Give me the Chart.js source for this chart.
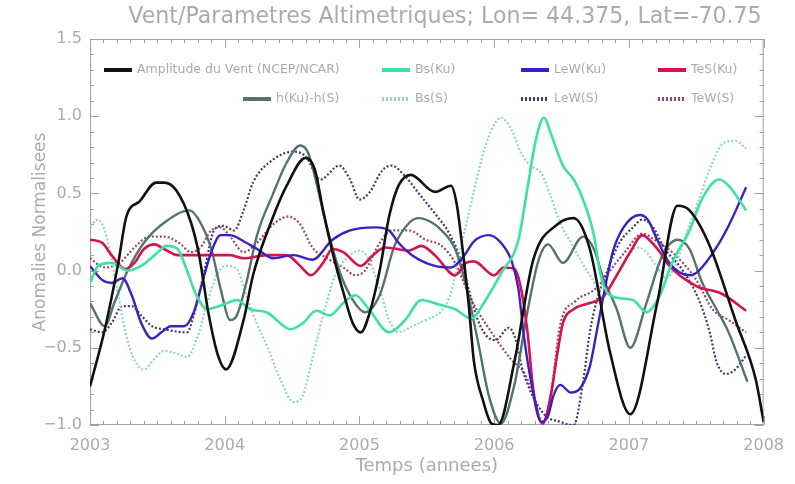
<!DOCTYPE html>
<html>
<head>
<meta charset="utf-8">
<title>Vent/Parametres Altimetriques</title>
<script src="https://cdn.jsdelivr.net/npm/chart.js@4.4.0/dist/chart.umd.min.js"></script>
<style>
  html, body { margin: 0; padding: 0; background: #ffffff; }
  #chart { display: block; }
</style>
</head>
<body>
<canvas id="chart" width="795" height="484"></canvas>
<script>
// Series: [year, normalised anomaly]
const ventPts = [[2003.00,-0.75],[2003.11,-0.38],[2003.21,0.05],[2003.27,0.35],[2003.37,0.45],[2003.49,0.57],[2003.55,0.57],[2003.64,0.52],[2003.75,0.31],[2003.81,0.10],[2003.88,-0.28],[2003.95,-0.55],[2004.01,-0.64],[2004.14,-0.32],[2004.21,-0.03],[2004.36,0.35],[2004.46,0.55],[2004.60,0.73],[2004.67,0.65],[2004.73,0.39],[2004.80,0.12],[2004.88,-0.14],[2004.95,-0.34],[2005.01,-0.40],[2005.07,-0.29],[2005.15,0.0],[2005.22,0.35],[2005.29,0.55],[2005.38,0.62],[2005.56,0.51],[2005.68,0.55],[2005.72,0.44],[2005.76,0.18],[2005.81,-0.21],[2005.85,-0.59],[2005.92,-0.85],[2005.98,-0.99],[2006.03,-1.0],[2006.15,-0.59],[2006.29,0.07],[2006.47,0.30],[2006.59,0.34],[2006.71,0.14],[2006.86,-0.53],[2007.01,-0.93],[2007.21,-0.21],[2007.36,0.42],[2007.45,0.39],[2007.60,0.16],[2007.79,-0.32],[2007.94,-0.70],[2008.00,-0.98]];
const bsKuPts = [[2003.00,-0.08],[2003.06,0.03],[2003.16,0.05],[2003.28,0.0],[2003.38,0.03],[2003.48,0.10],[2003.57,0.16],[2003.65,0.14],[2003.72,0.0],[2003.79,-0.16],[2003.87,-0.25],[2003.99,-0.22],[2004.09,-0.19],[2004.19,-0.25],[2004.31,-0.27],[2004.49,-0.38],[2004.58,-0.34],[2004.68,-0.26],[2004.78,-0.29],[2004.88,-0.21],[2004.97,-0.16],[2005.07,-0.25],[2005.22,-0.40],[2005.34,-0.32],[2005.46,-0.19],[2005.59,-0.22],[2005.71,-0.25],[2005.83,-0.31],[2005.93,-0.20],[2006.05,-0.02],[2006.18,0.20],[2006.25,0.55],[2006.31,0.85],[2006.37,0.99],[2006.42,0.89],[2006.51,0.68],[2006.59,0.59],[2006.66,0.46],[2006.74,0.23],[2006.79,-0.03],[2006.86,-0.16],[2007.03,-0.19],[2007.13,-0.27],[2007.23,-0.16],[2007.32,0.05],[2007.45,0.26],[2007.54,0.46],[2007.67,0.59],[2007.74,0.55],[2007.87,0.39]];
const lewKuPts = [[2003.00,0.03],[2003.09,-0.06],[2003.16,-0.08],[2003.24,-0.05],[2003.31,-0.16],[2003.38,-0.34],[2003.46,-0.44],[2003.53,-0.40],[2003.60,-0.36],[2003.70,-0.36],[2003.77,-0.27],[2003.82,-0.12],[2003.90,0.12],[2003.97,0.23],[2004.04,0.23],[2004.14,0.19],[2004.24,0.14],[2004.36,0.08],[2004.51,0.10],[2004.65,0.07],[2004.80,0.20],[2004.93,0.26],[2005.12,0.28],[2005.22,0.26],[2005.29,0.18],[2005.39,0.10],[2005.56,0.03],[2005.68,0.02],[2005.78,0.10],[2005.85,0.19],[2005.96,0.23],[2006.05,0.18],[2006.13,0.06],[2006.18,-0.12],[2006.22,-0.42],[2006.27,-0.70],[2006.35,-0.98],[2006.40,-0.94],[2006.44,-0.81],[2006.49,-0.74],[2006.57,-0.79],[2006.64,-0.76],[2006.71,-0.62],[2006.76,-0.40],[2006.81,-0.17],[2006.88,0.12],[2006.96,0.28],[2007.08,0.36],[2007.14,0.33],[2007.21,0.20],[2007.30,0.05],[2007.45,-0.03],[2007.52,0.0],[2007.65,0.15],[2007.74,0.29],[2007.87,0.54]];
const tesKuPts = [[2003.00,0.20],[2003.09,0.18],[2003.16,0.10],[2003.26,0.01],[2003.33,0.05],[2003.40,0.14],[2003.48,0.17],[2003.55,0.14],[2003.65,0.10],[2003.85,0.10],[2004.04,0.10],[2004.14,0.08],[2004.31,0.10],[2004.46,0.10],[2004.56,0.03],[2004.64,-0.03],[2004.73,0.05],[2004.80,0.14],[2004.88,0.12],[2005.01,0.03],[2005.10,0.10],[2005.19,0.15],[2005.37,0.13],[2005.46,0.16],[2005.56,0.10],[2005.71,-0.03],[2005.79,0.05],[2005.85,0.06],[2006.00,-0.03],[2006.07,0.02],[2006.15,0.01],[2006.20,-0.12],[2006.25,-0.42],[2006.29,-0.77],[2006.36,-0.99],[2006.42,-0.81],[2006.47,-0.53],[2006.51,-0.34],[2006.59,-0.25],[2006.71,-0.21],[2006.81,-0.17],[2006.91,-0.03],[2007.01,0.12],[2007.10,0.23],[2007.15,0.20],[2007.23,0.12],[2007.30,0.03],[2007.50,-0.10],[2007.69,-0.15],[2007.87,-0.26]];
const hDiffPts = [[2003.00,-0.21],[2003.11,-0.36],[2003.18,-0.21],[2003.28,0.0],[2003.40,0.18],[2003.55,0.31],[2003.74,0.39],[2003.82,0.31],[2003.90,0.14],[2003.97,-0.12],[2004.04,-0.32],[2004.09,-0.29],[2004.16,-0.08],[2004.24,0.23],[2004.36,0.50],[2004.46,0.70],[2004.56,0.81],[2004.62,0.76],[2004.75,0.31],[2004.85,0.0],[2004.95,-0.19],[2005.04,-0.27],[2005.15,-0.16],[2005.26,0.16],[2005.37,0.31],[2005.44,0.34],[2005.54,0.31],[2005.61,0.26],[2005.71,0.14],[2005.78,-0.06],[2005.88,-0.46],[2005.96,-0.81],[2006.05,-0.99],[2006.15,-0.74],[2006.25,-0.25],[2006.33,0.07],[2006.40,0.17],[2006.51,0.05],[2006.66,0.22],[2006.74,0.14],[2006.81,-0.05],[2006.91,-0.25],[2007.01,-0.50],[2007.13,-0.21],[2007.25,0.10],[2007.36,0.20],[2007.45,0.14],[2007.54,-0.07],[2007.65,-0.25],[2007.74,-0.40],[2007.88,-0.72]];
const bsSPts = [[2003.00,0.29],[2003.06,0.33],[2003.11,0.26],[2003.16,0.07],[2003.21,-0.16],[2003.28,-0.46],[2003.35,-0.61],[2003.40,-0.64],[2003.48,-0.57],[2003.55,-0.52],[2003.65,-0.54],[2003.72,-0.56],[2003.79,-0.45],[2003.87,-0.21],[2003.94,-0.03],[2004.01,0.03],[2004.09,0.01],[2004.16,-0.16],[2004.24,-0.35],[2004.31,-0.48],[2004.41,-0.70],[2004.51,-0.85],[2004.58,-0.81],[2004.65,-0.57],[2004.73,-0.29],[2004.82,-0.03],[2004.93,0.10],[2005.00,0.13],[2005.07,0.07],[2005.15,-0.12],[2005.22,-0.32],[2005.29,-0.40],[2005.39,-0.36],[2005.49,-0.32],[2005.61,-0.26],[2005.68,-0.14],[2005.76,0.18],[2005.83,0.44],[2005.90,0.70],[2005.98,0.91],[2006.05,0.99],[2006.13,0.91],[2006.20,0.76],[2006.27,0.68],[2006.35,0.63],[2006.42,0.48],[2006.49,0.31],[2006.57,0.18],[2006.64,0.07],[2006.71,-0.03],[2006.79,-0.12],[2006.86,-0.10],[2006.96,0.05],[2007.06,0.15],[2007.13,0.12],[2007.21,0.02],[2007.28,-0.05],[2007.35,0.05],[2007.43,0.25],[2007.52,0.46],[2007.62,0.70],[2007.71,0.83],[2007.79,0.84],[2007.87,0.79]];
const lewSPts = [[2003.00,-0.38],[2003.09,-0.40],[2003.16,-0.34],[2003.24,-0.23],[2003.31,-0.23],[2003.38,-0.29],[2003.46,-0.36],[2003.55,-0.38],[2003.72,-0.40],[2003.77,-0.29],[2003.85,0.0],[2003.92,0.26],[2003.99,0.29],[2004.07,0.26],[2004.14,0.39],[2004.21,0.57],[2004.36,0.72],[2004.51,0.77],[2004.60,0.74],[2004.71,0.59],[2004.85,0.68],[2004.93,0.59],[2005.00,0.46],[2005.07,0.50],[2005.17,0.65],[2005.24,0.68],[2005.34,0.61],[2005.44,0.50],[2005.56,0.37],[2005.66,0.25],[2005.74,0.10],[2005.81,-0.12],[2005.87,-0.30],[2005.94,-0.42],[2006.01,-0.45],[2006.11,-0.37],[2006.16,-0.45],[2006.21,-0.64],[2006.36,-0.92],[2006.49,-0.98],[2006.59,-1.0],[2006.66,-0.72],[2006.71,-0.40],[2006.76,-0.20],[2006.84,0.0],[2006.93,0.18],[2007.03,0.28],[2007.10,0.33],[2007.18,0.28],[2007.26,0.15],[2007.40,0.0],[2007.52,-0.19],[2007.60,-0.40],[2007.65,-0.59],[2007.72,-0.67],[2007.79,-0.64],[2007.87,-0.55]];
const tewSPts = [[2003.00,0.08],[2003.11,0.02],[2003.22,0.05],[2003.33,0.15],[2003.44,0.22],[2003.55,0.22],[2003.66,0.18],[2003.75,0.12],[2003.82,0.15],[2003.90,0.26],[2003.97,0.28],[2004.04,0.22],[2004.14,0.12],[2004.24,0.18],[2004.36,0.30],[2004.47,0.35],[2004.56,0.30],[2004.65,0.15],[2004.76,0.08],[2004.88,0.02],[2004.97,-0.03],[2005.04,0.0],[2005.15,0.18],[2005.24,0.26],[2005.37,0.26],[2005.49,0.20],[2005.61,0.16],[2005.71,0.05],[2005.83,-0.19],[2005.98,-0.40],[2006.13,-0.58],[2006.22,-0.66],[2006.29,-0.80],[2006.36,-0.99],[2006.42,-0.80],[2006.49,-0.35],[2006.60,-0.20],[2006.75,-0.12],[2006.86,0.0],[2006.97,0.12],[2007.10,0.24],[2007.19,0.20],[2007.32,0.12],[2007.50,-0.06],[2007.62,-0.25],[2007.74,-0.32],[2007.87,-0.40]];

const seriesNames = ['Amplitude du Vent (NCEP/NCAR)', 'Bs(Ku)', 'LeW(Ku)', 'TeS(Ku)', 'h(Ku)-h(S)', 'Bs(S)', 'LeW(S)', 'TeW(S)'];
const seriesPoints = [ventPts, bsKuPts, lewKuPts, tesKuPts, hDiffPts, bsSPts, lewSPts, tewSPts];
const xTickYears = [2003, 2004, 2005, 2006, 2007, 2008];
const yTickValues = [-1.0, -0.5, 0.0, 0.5, 1.0, 1.5];

const chartTitle = 'Vent/Parametres Altimetriques; Lon= 44.375, Lat=-70.75';
const xTitle = 'Temps (annees)';
const yTitle = 'Anomalies Normalisees';

// Line styles, same order as the series
const seriesStyles = [
    { color: '#111111', width: 2.6, dash: [] },
    { color: '#3fe0a2', width: 2.6, dash: [] },
    { color: '#3d20c4', width: 2.4, dash: [] },
    { color: '#d3144f', width: 2.6, dash: [] },
    { color: '#53736f', width: 2.4, dash: [] },
    { color: '#8ad6c8', width: 2.2, dash: [2, 2] },
    { color: '#463a68', width: 2.2, dash: [2, 2] },
    { color: '#9b4672', width: 2.2, dash: [2, 2] }
];

const TEXT_GRAY = '#ababab';
const FONT = '"DejaVu Sans", "Liberation Sans", sans-serif';

function formatTick(v) {
    return v.toFixed(1).replace('-', '\u2212');
}

// Box with inward major/minor ticks on all four sides
const framePlugin = {
    id: 'frame',
    beforeDatasetsDraw(chart) {
        const { ctx, chartArea: a, scales: { x, y } } = chart;
        ctx.save();
        ctx.strokeStyle = '#a0a0a0';
        ctx.lineWidth = 1;
        ctx.strokeRect(a.left + 0.5, a.top + 0.5, a.width - 1, a.height - 1);
        ctx.beginPath();
        const nx = Math.round((x.max - x.min) * 10);
        for (let i = 0; i <= nx; i++) {
            const px = Math.round(x.getPixelForValue(x.min + i / 10)) + 0.5;
            const len = i % 10 === 0 ? 9 : 4;
            ctx.moveTo(px, a.bottom); ctx.lineTo(px, a.bottom - len);
            ctx.moveTo(px, a.top); ctx.lineTo(px, a.top + len);
        }
        const ny = Math.round((y.max - y.min) * 10);
        for (let i = 0; i <= ny; i++) {
            const py = Math.round(y.getPixelForValue(y.min + i / 10)) + 0.5;
            const len = i % 5 === 0 ? 9 : 4;
            ctx.moveTo(a.left, py); ctx.lineTo(a.left + len, py);
            ctx.moveTo(a.right, py); ctx.lineTo(a.right - len, py);
        }
        ctx.stroke();
        ctx.restore();
    }
};

// Title above the box, stretched to the reference width
const titlePlugin = {
    id: 'plotTitle',
    afterDraw(chart) {
        const ctx = chart.ctx;
        ctx.save();
        ctx.font = `20px ${FONT}`;
        const w = ctx.measureText(chartTitle).width;
        const size = 20 * 634 / w;
        ctx.font = `${size.toFixed(1)}px ${FONT}`;
        ctx.fillStyle = TEXT_GRAY;
        ctx.textAlign = 'center';
        ctx.textBaseline = 'middle';
        ctx.fillText(chartTitle, 445, 17);
        ctx.restore();
    }
};

// Legend in two rows inside the plot, like the IDL original
const legendSlots = [[104, 70], [382, 70], [521, 70], [658, 70], [243, 99], [382, 99], [521, 99], [658, 99]];
const legendPlugin = {
    id: 'insideLegend',
    afterDraw(chart) {
        const ctx = chart.ctx;
        ctx.save();
        ctx.font = `12.5px ${FONT}`;
        ctx.textBaseline = 'middle';
        chart.data.datasets.forEach((ds, i) => {
            const [lx, ly] = legendSlots[i];
            ctx.strokeStyle = ds.borderColor;
            ctx.lineWidth = 4;
            ctx.setLineDash(ds.borderDash.length ? [2, 2] : []);
            ctx.beginPath();
            ctx.moveTo(lx, ly);
            ctx.lineTo(lx + 28, ly);
            ctx.stroke();
            ctx.setLineDash([]);
            ctx.fillStyle = TEXT_GRAY;
            ctx.fillText(ds.label, lx + 33, ly);
        });
        ctx.restore();
    }
};

const datasets = seriesPoints.map((pts, i) => ({
    label: seriesNames[i],
    data: pts.map(p => ({ x: p[0], y: p[1] })),
    borderColor: seriesStyles[i].color,
    borderWidth: seriesStyles[i].width,
    borderDash: seriesStyles[i].dash,
    pointRadius: 0,
    fill: false,
    cubicInterpolationMode: 'monotone'
}));

const chart = new Chart(document.getElementById('chart'), {
    type: 'line',
    data: { datasets },
    options: {
        responsive: false,
        animation: false,
        layout: { padding: { top: 39, left: 30, right: 25, bottom: 0 } },
        plugins: {
            legend: { display: false },
            tooltip: { enabled: false },
            title: { display: false }
        },
        scales: {
            x: {
                type: 'linear',
                min: 2003,
                max: 2008,
                afterFit: s => { s.height = 59; },
                afterBuildTicks: s => { s.ticks = xTickYears.map(v => ({ value: v })); },
                grid: { display: false, drawTicks: false },
                border: { display: false },
                ticks: {
                    color: TEXT_GRAY,
                    font: { family: FONT, size: 16 },
                    padding: 11,
                    maxRotation: 0,
                    autoSkip: false,
                    callback: v => String(v)
                },
                title: {
                    display: true,
                    text: xTitle,
                    color: TEXT_GRAY,
                    font: { family: FONT, size: 18 },
                    padding: { top: 0, bottom: 7 }
                }
            },
            y: {
                type: 'linear',
                min: -1,
                max: 1.5,
                afterFit: s => { s.width = 60; },
                afterBuildTicks: s => { s.ticks = yTickValues.map(v => ({ value: v })); },
                grid: { display: false, drawTicks: false },
                border: { display: false },
                ticks: {
                    color: TEXT_GRAY,
                    font: { family: FONT, size: 16 },
                    padding: 8,
                    autoSkip: false,
                    callback: v => formatTick(v)
                },
                title: {
                    display: true,
                    text: yTitle,
                    color: TEXT_GRAY,
                    font: { family: FONT, size: 17 },
                    padding: { top: 0, bottom: 0 }
                }
            }
        }
    },
    plugins: [framePlugin, titlePlugin, legendPlugin]
});
</script>
</body>
</html>
